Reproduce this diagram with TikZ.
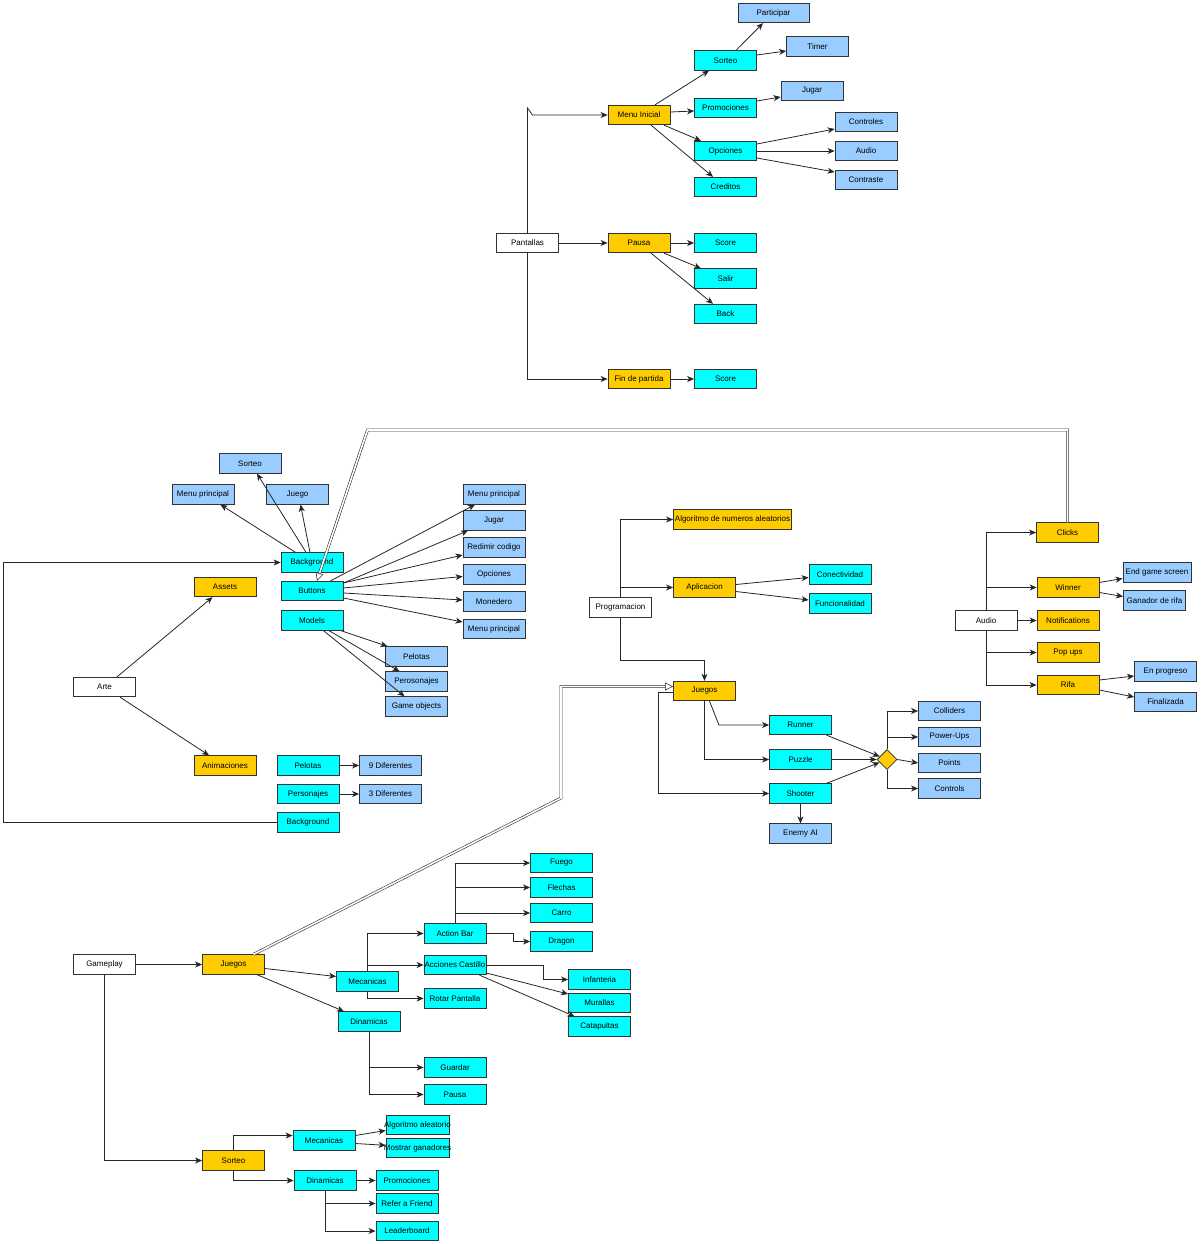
\documentclass[tikz,border=0pt]{standalone}
\usepackage{fontspec}
\setmainfont{Liberation Sans}
\usetikzlibrary{arrows.meta,shapes.geometric,calc}
\definecolor{cyanbox}{HTML}{00FFFF}
\definecolor{yelbox}{HTML}{FFCC00}
\definecolor{bluebox}{HTML}{99CCFF}
\tikzset{
  box/.style={draw=black!80,line width=0.8pt,minimum width=62pt,minimum height=19.5pt,inner sep=0pt,font=\fontsize{8}{9}\selectfont},
  wbox/.style={box,fill=white},
  ybox/.style={box,fill=yelbox},
  cbox/.style={box,fill=cyanbox},
  bbox/.style={box,fill=bluebox},
  arr/.style={draw=black!85,line width=0.8pt,-{Stealth[length=7pt,width=6pt,inset=2pt]}},
  dbl/.style={draw=black!80,line width=0.6pt,double=white,double distance=1.6pt,-{Triangle[open,length=8pt,width=8pt]}},
}
\begin{document}
\begin{tikzpicture}[x=1pt,y=-1pt]
\useasboundingbox (0,0) rectangle (1200,1244);
% ---------- Pantallas ----------
\node[wbox] (pant) at (527.5,243) {Pantallas};
\node[ybox] (mi) at (639,115) {Menu Inicial};
\node[ybox] (pausa) at (639,243) {Pausa};
\node[ybox] (fin) at (639,379) {Fin de partida};
\node[cbox] (ts) at (725.5,60.5) {Sorteo};
\node[cbox] (tprom) at (725.5,108) {Promociones};
\node[cbox] (topc) at (725.5,151) {Opciones};
\node[cbox] (tcred) at (725.5,187) {Creditos};
\node[cbox] (tscore1) at (725.5,243) {Score};
\node[cbox] (tsalir) at (725.5,278.5) {Salir};
\node[cbox] (tback) at (725.5,314) {Back};
\node[cbox] (tscore2) at (725.5,379) {Score};
\node[bbox,minimum width=71pt] (tpart) at (773.5,13) {Participar};
\node[bbox] (ttimer) at (817.5,46.5) {Timer};
\node[bbox] (tjugar) at (812,91) {Jugar};
\node[bbox] (tcontr) at (866,122) {Controles};
\node[bbox] (taudio) at (866,151) {Audio};
\node[bbox] (tcontra) at (866,180) {Contraste};
\coordinate (j1) at (527.5,108);
\coordinate (j2) at (532.5,115);
\draw[arr] (pant.north) -- (j1) -- (j2) -- (mi.west);
\draw[arr] (pant.east) -- (pausa.west);
\draw[arr] (pant.south) |- (fin.west);
\draw[arr] ([xshift=16pt]mi.north) -- ([xshift=-16.5pt]ts.south);
\draw[arr] ([yshift=3pt]mi.east) -- ([yshift=-3pt]tprom.west);
\draw[arr] ([xshift=25pt]mi.south) -- ([xshift=-24.5pt]topc.north);
\draw[arr] ([xshift=12pt]mi.south) -- ([xshift=-12.5pt]tcred.north);
\draw[arr] ([xshift=10.5pt]ts.north) -- ([xshift=-10.5pt]tpart.south);
\draw[arr] ([yshift=5.5pt]ts.east) -- ([yshift=-4.5pt]ttimer.west);
\draw[arr] ([yshift=7pt]tprom.east) -- ([yshift=-6pt]tjugar.west);
\draw[arr] ([yshift=7pt]topc.east) -- ([yshift=-7pt]tcontr.west);
\draw[arr] (topc.east) -- (taudio.west);
\draw[arr] ([yshift=-7pt]topc.east) -- ([yshift=8pt]tcontra.west);
\draw[arr] (pausa.east) -- (tscore1.west);
\draw[arr] ([xshift=25pt]pausa.south) -- ([xshift=-24.5pt]tsalir.north);
\draw[arr] ([xshift=12pt]pausa.south) -- ([xshift=-12.5pt]tback.north);
\draw[arr] (fin.east) -- (tscore2.west);
% ---------- Arte ----------
\node[wbox] (arte) at (104.5,687) {Arte};
\node[ybox] (assets) at (225,587) {Assets};
\node[ybox] (anim) at (225,765.5) {Animaciones};
\node[cbox] (abg) at (312,562.5) {Background};
\node[cbox] (abtn) at (312,591) {Buttons};
\node[cbox] (amod) at (312,620.5) {Models};
\node[bbox] (asort) at (250,463.5) {Sorteo};
\node[bbox] (amp) at (203,494.5) {Menu principal};
\node[bbox] (ajuego) at (297.5,494.5) {Juego};
\node[bbox] (bmp1) at (494,494.5) {Menu principal};
\node[bbox] (bjug) at (494,520.5) {Jugar};
\node[bbox] (bred) at (494,547.5) {Redimir codigo};
\node[bbox] (bopc) at (494,574.5) {Opciones};
\node[bbox] (bmon) at (494,601.5) {Monedero};
\node[bbox] (bmp2) at (494,629) {Menu principal};
\node[bbox] (mpel) at (416.5,656.5) {Pelotas};
\node[bbox] (mper) at (416.5,681.5) {Perosonajes};
\node[bbox] (mgo) at (416.5,706.5) {Game objects};
\node[cbox] (apel) at (308,765.5) {Pelotas};
\node[cbox] (aper) at (308,794) {Personajes};
\node[cbox] (abg2) at (308,822.5) {Background};
\node[bbox] (a9) at (390.5,765.5) {9 Diferentes};
\node[bbox] (a3) at (390.5,794) {3 Diferentes};
\draw[arr] ([xshift=12.5pt]arte.north) -- ([xshift=-12.5pt]assets.south);
\draw[arr] ([xshift=15.5pt]arte.south) -- ([xshift=-16pt]anim.north);
\coordinate (lb1) at (3,822.5);
\coordinate (lb2) at (3,562.5);
\draw[arr] (abg2.west) -- (lb1) -- (lb2) -- (abg.west);
\draw[arr] ([xshift=-16.5pt]abg.north) -- ([xshift=17.5pt]amp.south);
\draw[arr] ([xshift=-6pt]abg.north) -- ([xshift=7pt]asort.south);
\draw[arr] ([xshift=-2pt]abg.north) -- ([xshift=3pt]ajuego.south);
\draw[arr] ([xshift=18.5pt]abtn.north) -- ([xshift=-19pt]bmp1.south);
\draw[arr] ([yshift=8pt]abtn.east) -- ([xshift=-26pt]bjug.south);
\draw[arr] ([yshift=8pt]abtn.east) -- ([yshift=-7.5pt]bred.west);
\draw[arr] ([yshift=3pt]abtn.east) -- ([yshift=-2pt]bopc.west);
\draw[arr] ([yshift=-2pt]abtn.east) -- ([yshift=1.5pt]bmon.west);
\draw[arr] ([yshift=-7pt]abtn.east) -- ([yshift=7pt]bmp2.west);
\draw[arr] ([xshift=29pt]amod.south) -- ([xshift=-29pt]mpel.north);
\draw[arr] ([xshift=17pt]amod.south) -- ([xshift=-17pt]mper.north);
\draw[arr] ([xshift=11.5pt]amod.south) -- ([xshift=-12pt]mgo.north);
\draw[arr] (apel.east) -- (a9.west);
\draw[arr] (aper.east) -- (a3.west);
% ---------- Programacion ----------
\node[wbox] (prog) at (620.5,607.5) {Programacion};
\node[ybox,minimum width=118pt] (alg) at (732.5,519.5) {Algoritmo de numeros aleatorios};
\node[ybox] (apl) at (704.5,587.5) {Aplicacion};
\node[cbox] (con) at (840,574.5) {Conectividad};
\node[cbox] (fun) at (840,603.5) {Funcionalidad};
\node[ybox] (pjue) at (704.5,691) {Juegos};
\node[cbox] (run) at (800.5,725) {Runner};
\node[cbox] (puz) at (800.5,759.5) {Puzzle};
\node[cbox] (sho) at (800.5,793.5) {Shooter};
\node[bbox] (enemy) at (800.5,833.5) {Enemy AI};
\node[draw=black!80,line width=0.8pt,fill=yelbox,diamond,minimum width=20pt,minimum height=20pt,inner sep=0pt] (dia) at (887,759.5) {};
\node[bbox] (col) at (949.5,711) {Colliders};
\node[bbox] (pow) at (949.5,737) {Power-Ups};
\node[bbox] (pts) at (949.5,763) {Points};
\node[bbox] (ctl) at (949.5,788.5) {Controls};
\draw[arr] (prog.north) |- (alg.west);
\draw[arr] (prog.north |- apl.west) -- (apl.west);
\draw[arr] (prog.south) |- ($(pjue.north)+(0,-20)$) -- (pjue.north);
\draw[arr] ([yshift=3pt]apl.east) -- ([yshift=-3pt]con.west);
\draw[arr] ([yshift=-4pt]apl.east) -- ([yshift=3.5pt]fun.west);
\coordinate (rj) at (719,725);
\draw[arr] ([xshift=5pt]pjue.south) -- (rj) -- (run.west);
\draw[arr] (pjue.south) |- (puz.west);
\draw[arr] ([yshift=-1pt]pjue.west) -- ++(-15,0) |- (sho.west);
\draw[arr] ([xshift=26pt]run.south) -- (dia);
\draw[arr] (puz.east) -- (dia.west);
\draw[arr] ([xshift=26pt]sho.north) -- (dia);
\draw[arr] (sho.south) -- (enemy.north);
\draw[arr] (dia.north) |- (col.west);
\draw[arr] (dia.north |- pow.west) -- (pow.west);
\draw[arr] (dia.east) -- (pts.west);
\draw[arr] (dia.south) |- (ctl.west);
% ---------- Audio ----------
\node[wbox] (aud) at (986,620.5) {Audio};
\node[ybox] (clk) at (1067.5,532.5) {Clicks};
\node[ybox] (win) at (1068,587.5) {Winner};
\node[ybox] (notif) at (1068,620.5) {Notifications};
\node[ybox] (pop) at (1068,652.5) {Pop ups};
\node[ybox] (rifa) at (1068,685) {Rifa};
\node[bbox,minimum width=68pt] (endg) at (1157,572.5) {End game screen};
\node[bbox] (gan) at (1154.5,600.5) {Ganador de rifa};
\node[bbox] (enp) at (1165.5,671.5) {En progreso};
\node[bbox] (finz) at (1165.5,702) {Finalizada};
\draw[arr] (aud.north) |- (clk.west);
\draw[arr] (aud.north |- win.west) -- (win.west);
\draw[arr] (aud.east) -- (notif.west);
\draw[arr] (aud.south) |- (pop.west);
\draw[arr] (aud.south) |- (rifa.west);
\draw[arr] ([yshift=5pt]win.east) -- ([yshift=-6pt]endg.west);
\draw[arr] ([yshift=-5pt]win.east) -- ([yshift=4pt]gan.west);
\draw[arr] ([yshift=5pt]rifa.east) -- ([yshift=-4.5pt]enp.west);
\draw[arr] ([yshift=-5pt]rifa.east) -- ([yshift=5pt]finz.west);
% ---------- Gameplay ----------
\node[wbox] (gp) at (104.5,964.5) {Gameplay};
\node[ybox] (gjue) at (233.5,964.5) {Juegos};
\node[cbox] (gmec) at (367.5,981.5) {Mecanicas};
\node[cbox] (gdin) at (369,1021.5) {Dinamicas};
\node[cbox] (gab) at (455,933.5) {Action Bar};
\node[cbox] (gac) at (455,965) {\makebox[58pt]{Acciones Castillo}};
\node[cbox] (grot) at (455,998.5) {Rotar Pantalla};
\node[cbox] (gfue) at (561.5,863) {Fuego};
\node[cbox] (gfle) at (561.5,887.5) {Flechas};
\node[cbox] (gcar) at (561.5,913) {Carro};
\node[cbox] (gdra) at (561.5,941.5) {Dragon};
\node[cbox] (ginf) at (599.5,979.5) {Infanteria};
\node[cbox] (gmur) at (599.5,1003) {Murallas};
\node[cbox] (gcat) at (599.5,1026.5) {Catapultas};
\node[cbox] (ggua) at (455,1067.5) {Guardar};
\node[cbox] (gpau) at (455,1094.5) {Pausa};
\node[ybox] (gsor) at (233.5,1160.5) {Sorteo};
\node[cbox] (smec) at (324,1140.5) {Mecanicas};
\node[cbox] (sdin) at (325,1180.5) {Dinamicas};
\node[cbox,minimum width=63pt] (salg) at (417.5,1125) {\makebox[55pt]{Algoritmo aleatorio}};
\node[cbox,minimum width=63pt] (smos) at (417.5,1148) {\makebox[55pt]{Mostrar ganadores}};
\node[cbox] (sprom) at (407,1180.5) {Promociones};
\node[cbox] (sref) at (407,1203.5) {Refer a Friend};
\node[cbox] (slead) at (407,1231) {Leaderboard};
\draw[arr] (gp.east) -- (gjue.west);
\draw[arr] (gp.south) |- (gsor.west);
\draw[arr] ([yshift=-4pt]gjue.east) -- ([yshift=5pt]gmec.west);
\draw[arr] ([xshift=23.5pt]gjue.south) -- ([xshift=-25pt]gdin.north);
\draw[arr] (gmec.north) |- (gab.west);
\draw[arr] (gmec.north |- gac.west) -- (gac.west);
\draw[arr] (gmec.south) |- (grot.west);
\draw[arr] (gab.north) |- (gfue.west);
\draw[arr] (gab.north) |- (gfle.west);
\draw[arr] (gab.north) |- (gcar.west);
\draw[arr] (gab.east) -- ++(27,0) |- (gdra.west);
\draw[arr] (gac.east) -- ++(57,0) |- (ginf.west);
\draw[arr] ([yshift=-8pt]gac.east) -- ([yshift=9pt]gmur.west);
\draw[arr] ([xshift=24.5pt]gac.south) -- ([xshift=-25pt]gcat.north);
\draw[arr] (gdin.south) |- (ggua.west);
\draw[arr] (gdin.south) |- (gpau.west);
\draw[arr] (gsor.north) |- ([yshift=5pt]smec.west);
\draw[arr] (gsor.south) |- (sdin.west);
\draw[arr] ([yshift=5pt]smec.east) -- ([yshift=-5.5pt]salg.west);
\draw[arr] ([yshift=-3pt]smec.east) -- ([yshift=2.7pt]smos.west);
\draw[arr] (sdin.east) -- (sprom.west);
\draw[arr] (sdin.south) |- (sref.west);
\draw[arr] (sdin.south) |- (slead.west);
% ---------- double connectors ----------
\coordinate (d1) at (1067.5,430);
\coordinate (d2) at (367.5,430);
\draw[dbl] (clk.north) -- (d1) -- (d2) -- ([xshift=5pt]abtn.north);
\coordinate (d3) at (561,798);
\coordinate (d4) at (561,686.5);
\draw[dbl] ([xshift=20pt]gjue.north) -- (d3) -- (d4) -- ([yshift=4.5pt]pjue.west);
\end{tikzpicture}
\end{document}
